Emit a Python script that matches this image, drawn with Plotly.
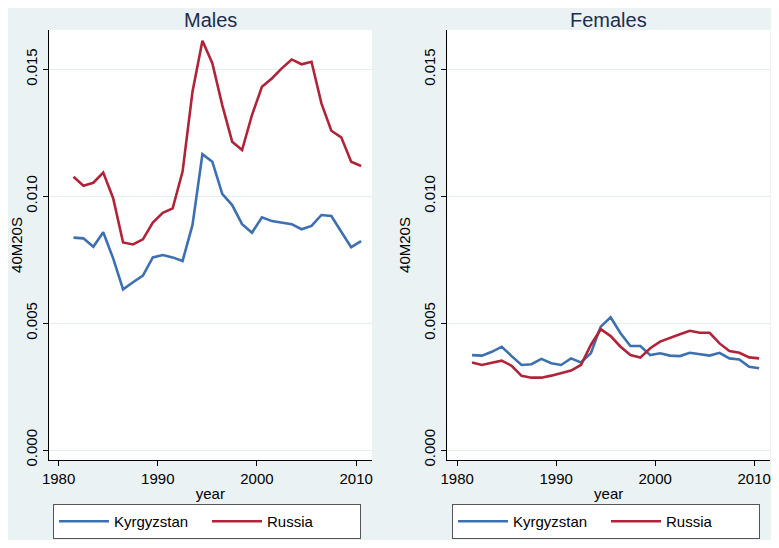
import plotly.graph_objects as go

years = [y + 0.5 for y in range(1981, 2011)]

males_kyrgyzstan = [0.00837, 0.00834, 0.00801, 0.00858, 0.00755, 0.00633, 0.00661, 0.00687, 0.00759, 0.00768,
                    0.00759, 0.00745, 0.00887, 0.01166, 0.01136, 0.01009, 0.00965, 0.00890, 0.00856, 0.00917,
                    0.00902, 0.00897, 0.00890, 0.00870, 0.00883, 0.00926, 0.00922, 0.00860, 0.00799, 0.00823]
males_russia = [0.01077, 0.01041, 0.01053, 0.01093, 0.00992, 0.00818, 0.00810, 0.00830, 0.00896, 0.00935,
                0.00952, 0.01097, 0.01412, 0.01613, 0.01524, 0.01359, 0.01215, 0.01182, 0.01320, 0.01431,
                0.01464, 0.01504, 0.01539, 0.01520, 0.01530, 0.01366, 0.01258, 0.01232, 0.01136, 0.01119]
females_kyrgyzstan = [0.00374, 0.00372, 0.00387, 0.00407, 0.00370, 0.00335, 0.00338, 0.00359, 0.00342, 0.00335,
                      0.00361, 0.00345, 0.00381, 0.00486, 0.00523, 0.00460, 0.00410, 0.00410, 0.00374, 0.00381,
                      0.00372, 0.00370, 0.00383, 0.00377, 0.00372, 0.00383, 0.00361, 0.00357, 0.00328, 0.00322]
females_russia = [0.00345, 0.00335, 0.00344, 0.00352, 0.00332, 0.00292, 0.00285, 0.00285, 0.00293, 0.00302,
                  0.00313, 0.00335, 0.00414, 0.00476, 0.00449, 0.00407, 0.00374, 0.00364, 0.00401, 0.00427,
                  0.00443, 0.00456, 0.00470, 0.00462, 0.00462, 0.00420, 0.00390, 0.00383, 0.00365, 0.00361]

panel_titles = ["Males", "Females"]
series_names = ["Kyrgyzstan", "Russia"]
y_ticks = [0.0, 0.005, 0.010, 0.015]
x_ticks = [1980, 1990, 2000, 2010]

# The page body adds an 8px offset; the figure itself is the light graph region.
OFF = 8
W, H = 763, 532
BLUE = "#3c70b0"
RED = "#b0243a"
BG = "#eaf2f3"
FONT = "Liberation Sans, Arial, sans-serif"

fig = go.Figure()

panels = [
    (males_kyrgyzstan, males_russia, "x", "y", "legend"),
    (females_kyrgyzstan, females_russia, "x2", "y2", "legend2"),
]
for kg, ru, xa, ya, lg in panels:
    fig.add_trace(go.Scatter(x=years, y=kg, mode="lines", name=series_names[0],
                             line=dict(color=BLUE, width=2.6), xaxis=xa, yaxis=ya, legend=lg))
    fig.add_trace(go.Scatter(x=years, y=ru, mode="lines", name=series_names[1],
                             line=dict(color=RED, width=2.6), xaxis=xa, yaxis=ya, legend=lg))

def px_x(p):
    return (p - OFF) / W

def px_y(p):
    return 1 - (p - OFF) / H

x_domains = [[px_x(48.7), px_x(372)], [px_x(447.3), px_x(770)]]
y_domain = [px_y(460), px_y(30)]

axis_common = dict(showline=True, linecolor="black", linewidth=1.3, ticks="outside",
                   ticklen=5, tickcolor="black", tickwidth=1.2, zeroline=False, automargin=False,
                   tickfont=dict(family=FONT, size=15, color="black"))

for i, (xk, yk) in enumerate([("xaxis", "yaxis"), ("xaxis2", "yaxis2")]):
    xa_id = "x" if i == 0 else "x2"
    ya_id = "y" if i == 0 else "y2"
    fig.layout[xk] = dict(domain=x_domains[i], anchor=ya_id, range=[1979.0, 2011.6],
                          tickvals=x_ticks, showgrid=False,
                          title=dict(text="year", font=dict(family=FONT, size=15, color="black"), standoff=2),
                          **axis_common)
    fig.layout[yk] = dict(domain=y_domain, anchor=xa_id, range=[-0.000394, 0.01655],
                          tickvals=y_ticks, tickformat=".3f", tickangle=-90,
                          showgrid=True, gridcolor="#e4eef0", gridwidth=1.2,
                          title=dict(text="40M20S", font=dict(family=FONT, size=15, color="black"), standoff=6),
                          **axis_common)
    fig.add_annotation(text=panel_titles[i], xref="paper", yref="paper",
                       x=(x_domains[i][0] + x_domains[i][1]) / 2, y=px_y(8.5),
                       xanchor="center", yanchor="top", showarrow=False, borderpad=0,
                       font=dict(family=FONT, size=20, color="#1c2c4e"))

legend_common = dict(orientation="h", bgcolor="white", bordercolor="#555555", borderwidth=1,
                     font=dict(family=FONT, size=15, color="black"),
                     itemwidth=50, entrywidth=88, entrywidthmode="pixels",
                     xanchor="left", yanchor="bottom", y=px_y(539), itemclick=False)
fig.update_layout(
    legend=dict(x=px_x(53), **legend_common),
    legend2=dict(x=px_x(452), **legend_common),
)

fig.update_layout(width=W, height=H, margin=dict(l=0, r=0, t=0, b=0, autoexpand=False),
                  paper_bgcolor=BG, plot_bgcolor="white", showlegend=True)

fig.write_html("out.html")
